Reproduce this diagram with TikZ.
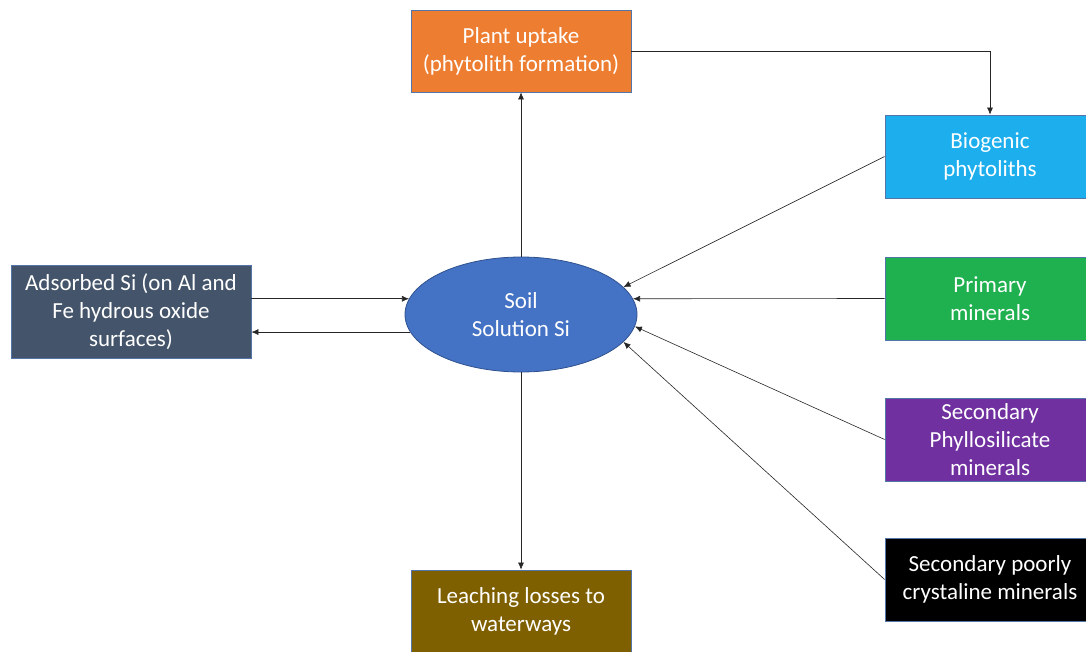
\documentclass[tikz,border=0pt]{standalone}
\usepackage{fontspec}
\setmainfont{Carlito}
\usepackage{tikz}
\usetikzlibrary{positioning, arrows.meta, shapes.geometric}
\usepackage{xcolor}
\definecolor{uptakeorange}{HTML}{ED7D31}
\definecolor{biogenicblue}{HTML}{1DAEEE}
\definecolor{primarygreen}{HTML}{1FB04F}
\definecolor{phyllopurple}{HTML}{7030A0}
\definecolor{adsorbedslate}{HTML}{44546A}
\definecolor{leachbrown}{HTML}{7F6000}
\definecolor{soilblue}{HTML}{4472C4}
\definecolor{soilborder}{HTML}{2F528F}
\definecolor{boxborder}{HTML}{5475A8}

\begin{document}
\begin{tikzpicture}[
      x=1pt, y=-1pt,
      >={Latex[length=7pt,width=6pt]},
      poolbox/.style={
        rectangle, draw=boxborder, line width=0.8pt, text centered,
        align=center, text=white, inner sep=0pt,
        font=\fontsize{23}{28}\selectfont,
      },
      flow/.style={->, line width=0.6pt, draw=black!85},
    ]
      \useasboundingbox (0,0) rectangle (1086,652);

      % central pool
      \node[ellipse, draw=soilborder, line width=0.8pt, fill=soilblue,
        minimum width=232pt, minimum height=115pt, inner sep=0pt,
        text=white, align=center, font=\fontsize{23}{28}\selectfont]
        (soil) at (521,314.5) {Soil\\Solution Si};

      % sinks
      \node[poolbox, fill=uptakeorange, minimum width=220pt, minimum height=82pt]
        (uptake) at (521,51) {Plant uptake\\(phytolith formation)};
      \node[poolbox, fill=leachbrown, minimum width=220pt, minimum height=82pt]
        (leach) at (521,611) {Leaching losses to\\waterways};
      \node[poolbox, fill=adsorbedslate, minimum width=240pt, minimum height=93pt]
        (adsorbed) at (131,311.5) {Adsorbed Si (on Al and\\Fe hydrous oxide\\surfaces)};

      % sources
      \node[poolbox, fill=biogenicblue, minimum width=210pt, minimum height=83pt]
        (bio) at (990,156.5) {Biogenic\\phytoliths};
      \node[poolbox, fill=primarygreen, minimum width=210pt, minimum height=83pt]
        (primary) at (990,298.5) {Primary\\minerals};
      \node[poolbox, fill=phyllopurple, minimum width=210pt, minimum height=83pt]
        (phyllo) at (990,439.5) {Secondary\\Phyllosilicate\\minerals};
      \node[poolbox, fill=black, minimum width=210pt, minimum height=83pt]
        (poorly) at (990,579.5) {Secondary poorly\\crystaline minerals};

      % Draw arrows
      \draw[flow] (soil) -- (uptake);
      \draw[flow] (soil) -- (leach);
      \draw[flow] (uptake.east) -| (bio.north);
      \draw[flow] (bio.west) -- (soil.15);
      \draw[flow] (primary.west) -- (soil.8);
      \draw[flow] (phyllo.west) -- (soil.-6);
      \draw[flow] (poorly.west) -- (soil.-15);
      \draw[flow] (adsorbed.east |- soil.172) -- (soil.172);
      \draw[flow] (soil.189) -- (adsorbed.east |- soil.189);
    \end{tikzpicture}
\end{document}
